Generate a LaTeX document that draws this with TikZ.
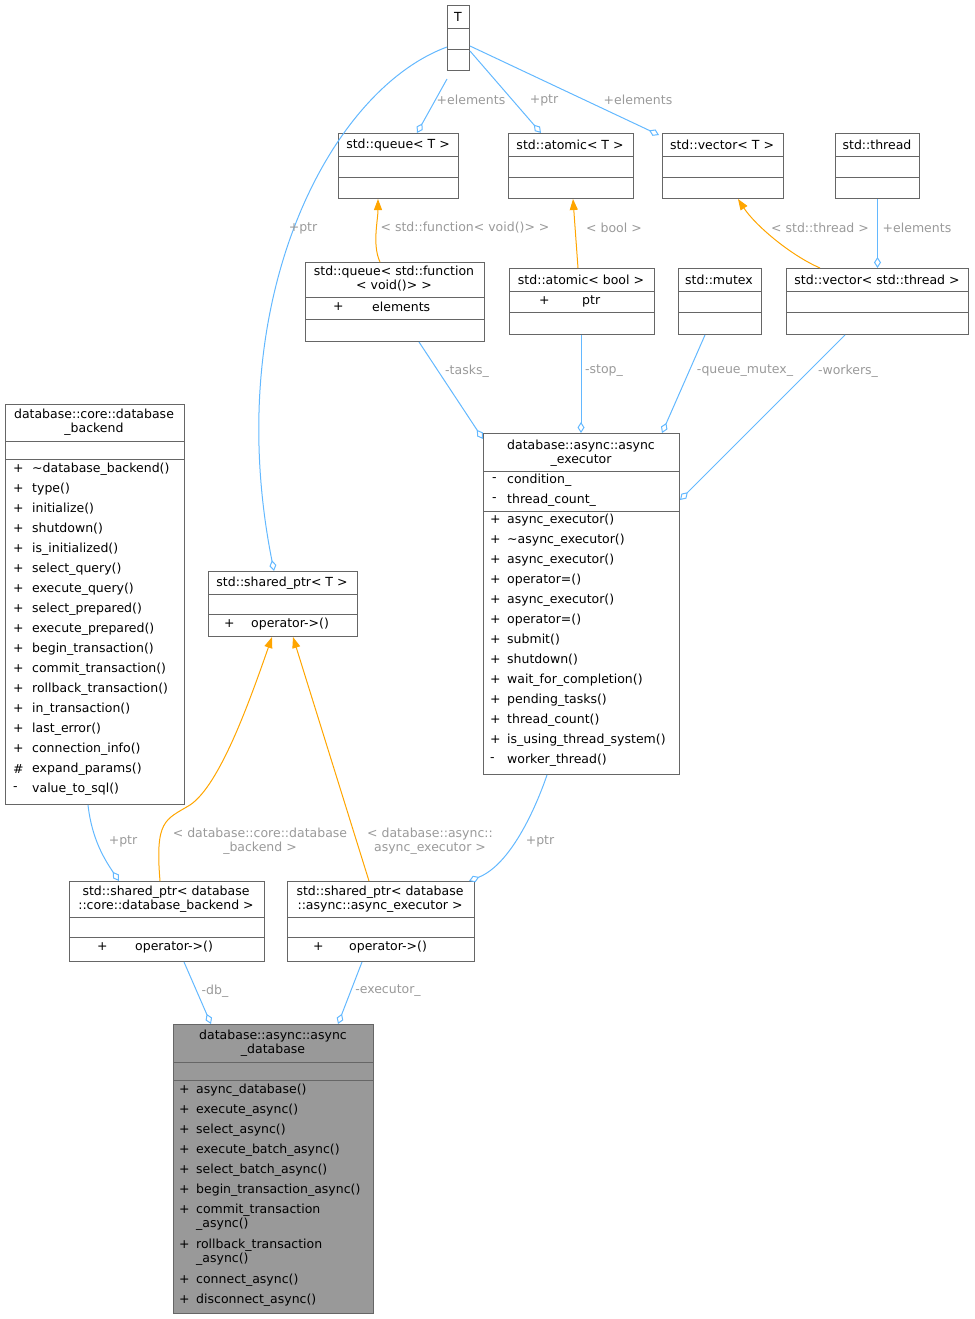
\documentclass[tikz,border=0pt]{standalone}
\usepackage{fontspec}
\setmainfont{DejaVu Sans}
\usetikzlibrary{arrows.meta,calc}
\definecolor{eb}{HTML}{63B8FF}
\definecolor{eo}{HTML}{FFA500}
\definecolor{lg}{HTML}{9A9A9A}
\definecolor{bd}{HTML}{666666}
\tikzset{
 box/.style={draw=bd,anchor=north west,inner sep=0pt,line width=1pt},
 t/.style={font=\fontsize{12.5}{14}\selectfont,inner sep=0pt,text=black},
 tc/.style={t,align=center},
 tl/.style={t,anchor=west},
 lab/.style={font=\fontsize{12.5}{14}\selectfont,text=lg,inner sep=1pt,align=center},
 agg/.style={draw=eb,line width=1pt,-{Diamond[open,length=11pt,width=7pt]}},
 inh/.style={draw=eo,line width=1pt,-{Triangle[length=11pt,width=8pt]}},
 dv/.style={draw=bd,line width=1pt}
}
\newcommand{\ubox}[6][white]{%
 \node[box,fill=#1,minimum width=#4-#2,minimum height=#5-#3] (#6) at (#2,#3) {};}
\newcommand{\hd}[3]{\draw[dv] (#1,#3) -- (#2,#3);}
\newcommand{\ml}[3]{\node[tl] at (#1,#2) {#3};}
\begin{document}
\begin{tikzpicture}[x=1pt,y=-1pt]
\useasboundingbox (0,0) rectangle (974,1319);
% T
\ubox{447}{5}{469}{70}{T}\hd{447}{469}{29}\hd{447}{469}{50}
\node[tc] at (458,17) {T};
% queue<T>
\ubox{338}{133}{458}{198}{qT}\hd{338}{458}{156}\hd{338}{458}{177}
\node[tc] at (398,145) {std::queue< T >};
% atomic<T>
\ubox{508}{133}{633}{198}{aT}\hd{508}{633}{156}\hd{508}{633}{177}
\node[tc] at (570,145) {std::atomic< T >};
% vector<T>
\ubox{662}{133}{783}{198}{vT}\hd{662}{783}{156}\hd{662}{783}{177}
\node[tc] at (722,145) {std::vector< T >};
% thread
\ubox{835}{133}{919}{198}{th}\hd{835}{919}{156}\hd{835}{919}{177}
\node[tc] at (877,145) {std::thread};
% queue<function>
\ubox{305}{262}{484}{341}{qf}\hd{305}{484}{297}\hd{305}{484}{319}
\node[tc] at (394,279) {std::queue< std::function\\< void()> >};
\ml{333}{307}{+}\ml{372}{307}{elements}
% atomic<bool>
\ubox{509}{268}{654}{334}{ab}\hd{509}{654}{291}\hd{509}{654}{312}
\node[tc] at (581,280) {std::atomic< bool >};
\ml{539}{301}{+}\ml{582}{301}{ptr}
% mutex
\ubox{678}{268}{761}{334}{mx}\hd{678}{761}{291}\hd{678}{761}{312}
\node[tc] at (719,280) {std::mutex};
% vector<thread>
\ubox{786}{268}{968}{334}{vt}\hd{786}{968}{291}\hd{786}{968}{312}
\node[tc] at (877,280) {std::vector< std::thread >};
% backend
\ubox{5}{404}{184}{804}{be}\hd{5}{184}{441}\hd{5}{184}{459}
\node[tc] at (94,422) {database::core::database\\\_backend};
\foreach \s/\n [count=\i from 0] in {+/\textasciitilde database\_backend(),+/type(),+/initialize(),+/shutdown(),+/is\_initialized(),+/select\_query(),+/execute\_query(),+/select\_prepared(),+/execute\_prepared(),+/begin\_transaction(),+/commit\_transaction(),+/rollback\_transaction(),+/in\_transaction(),+/last\_error(),+/connection\_info(),\#/expand\_params(),-/value\_to\_sql()}
 {\ml{13}{469+20*\i}{\s}\ml{32}{469+20*\i}{\n}}
% shared_ptr<T>
\ubox{208}{571}{357}{636}{sT}\hd{208}{357}{594}\hd{208}{357}{614}
\node[tc] at (282,583) {std::shared\_ptr< T >};
\ml{224}{624}{+}\ml{251}{624}{operator->()}
% executor
\ubox{483}{433}{679}{774}{ex}\hd{483}{679}{471}\hd{483}{679}{511}
\node[tc] at (581,453) {database::async::async\\\_executor};
\ml{492}{480}{-}\ml{507}{480}{condition\_}
\ml{492}{500}{-}\ml{507}{500}{thread\_count\_}
\foreach \s/\n [count=\i from 0] in {+/async\_executor(),+/\textasciitilde async\_executor(),+/async\_executor(),+/operator=(),+/async\_executor(),+/operator=(),+/submit(),+/shutdown(),+/wait\_for\_completion(),+/pending\_tasks(),+/thread\_count(),+/is\_using\_thread\_system(),-/worker\_thread()}
 {\ml{490}{520+20*\i}{\s}\ml{507}{520+20*\i}{\n}}
% shared_ptr<backend>
\ubox{69}{881}{264}{961}{sb}\hd{69}{264}{917}\hd{69}{264}{937}
\node[tc] at (166,899) {std::shared\_ptr< database\\::core::database\_backend >};
\ml{97}{947}{+}\ml{135}{947}{operator->()}
% shared_ptr<executor>
\ubox{287}{881}{474}{961}{se}\hd{287}{474}{917}\hd{287}{474}{937}
\node[tc] at (380,899) {std::shared\_ptr< database\\::async::async\_executor >};
\ml{313}{947}{+}\ml{349}{947}{operator->()}
% async_database
\ubox[black!40]{173}{1024}{373}{1313}{db}\hd{173}{373}{1062}\hd{173}{373}{1080}
\node[tc] at (273,1043) {database::async::async\\\_database};
\foreach \s/\n/\yy in {+/async\_database()/1090,+/execute\_async()/1110,+/select\_async()/1130,+/execute\_batch\_async()/1150,+/select\_batch\_async()/1170,+/begin\_transaction\_async()/1190,+/connect\_async()/1280,+/disconnect\_async()/1300}
 {\ml{179}{\yy}{\s}\ml{196}{\yy}{\n}}
\ml{179}{1210}{+}\node[t,anchor=north west,align=left] at (196,1204) {commit\_transaction\\\_async()};
\ml{179}{1245}{+}\node[t,anchor=north west,align=left] at (196,1239) {rollback\_transaction\\\_async()};
% edges from T
\draw[agg] ([yshift=-8pt]T.south west) -- ([xshift=79pt]qT.north west);
\node[lab] at (471,100) {+elements};
\draw[agg] ([yshift=20pt]T.south east) -- ([xshift=33pt]aT.north west);
\node[lab] at (544,100) {+ptr};
\draw[agg] ([yshift=25pt]T.south east) -- ([xshift=-3pt,yshift=-2pt]vT.north west);
\node[lab] at (638,100) {+elements};
\draw[agg] ([yshift=24pt]T.south west) .. controls (330,90) and (220,300) .. ([xshift=66pt]sT.north west);
\node[lab] at (303,228) {+ptr};
% inheritance
\draw[inh] ([xshift=75pt]qf.north west) .. controls (372,245) and (378,220) .. ([xshift=40pt]qT.south west);
\node[lab] at (465,228) {< std::function< void()> >};
\draw[inh] ([xshift=69pt]ab.north west) -- ([xshift=65pt]aT.south west);
\node[lab] at (614,228) {< bool >};
\draw[inh] ([xshift=34pt]vt.north west) .. controls (790,255) and (755,225) .. ([xshift=76pt]vT.south west);
\node[lab] at (820,228) {< std::thread >};
\draw[agg] (th.south) -- (vt.north -| th.south);
\node[lab] at (917,228) {+elements};
% to executor
\draw[agg] ([xshift=114pt]qf.south west) -- ([yshift=-6pt]ex.north west);
\node[lab] at (467,371) {-tasks\_};
\draw[agg] ([xshift=72pt]ab.south west) -- ([xshift=98pt]ex.north west);
\node[lab] at (604,371) {-stop\_};
\draw[agg] ([xshift=27pt]mx.south west) -- ([xshift=-18pt]ex.north east);
\node[lab] at (745,371) {-queue\_mutex\_};
\draw[agg] ([xshift=59pt]vt.south west) -- ([yshift=-67pt]ex.north east);
\node[lab] at (848,371) {-workers\_};
% shared_ptrs
\draw[agg] ([xshift=83pt]be.south west) .. controls (92,840) and (105,860) .. ([xshift=50pt]sb.north west);
\node[lab] at (123,841) {+ptr};
\draw[agg] ([xshift=64pt]ex.south west) .. controls (535,810) and (510,865) .. ([xshift=-6pt]se.north east);
\node[lab] at (540,841) {+ptr};
\draw[inh] ([xshift=91pt]sb.north west) .. controls (155,820) and (165,820) .. (190,805) .. controls (220,785) and (250,700) .. ([xshift=64pt]sT.south west);
\node[lab] at (260,841) {< database::core::database\\\_backend >};
\draw[inh] ([xshift=82pt]se.north west) -- ([xshift=85pt]sT.south west);
\node[lab] at (430,841) {< database::async::\\async\_executor >};
\draw[agg] ([xshift=115pt]sb.south west) -- ([xshift=38pt]db.north west);
\node[lab] at (215,991) {-db\_};
\draw[agg] ([xshift=75pt]se.south west) -- ([xshift=165pt]db.north west);
\node[lab] at (388,991) {-executor\_};
\end{tikzpicture}
\end{document}
